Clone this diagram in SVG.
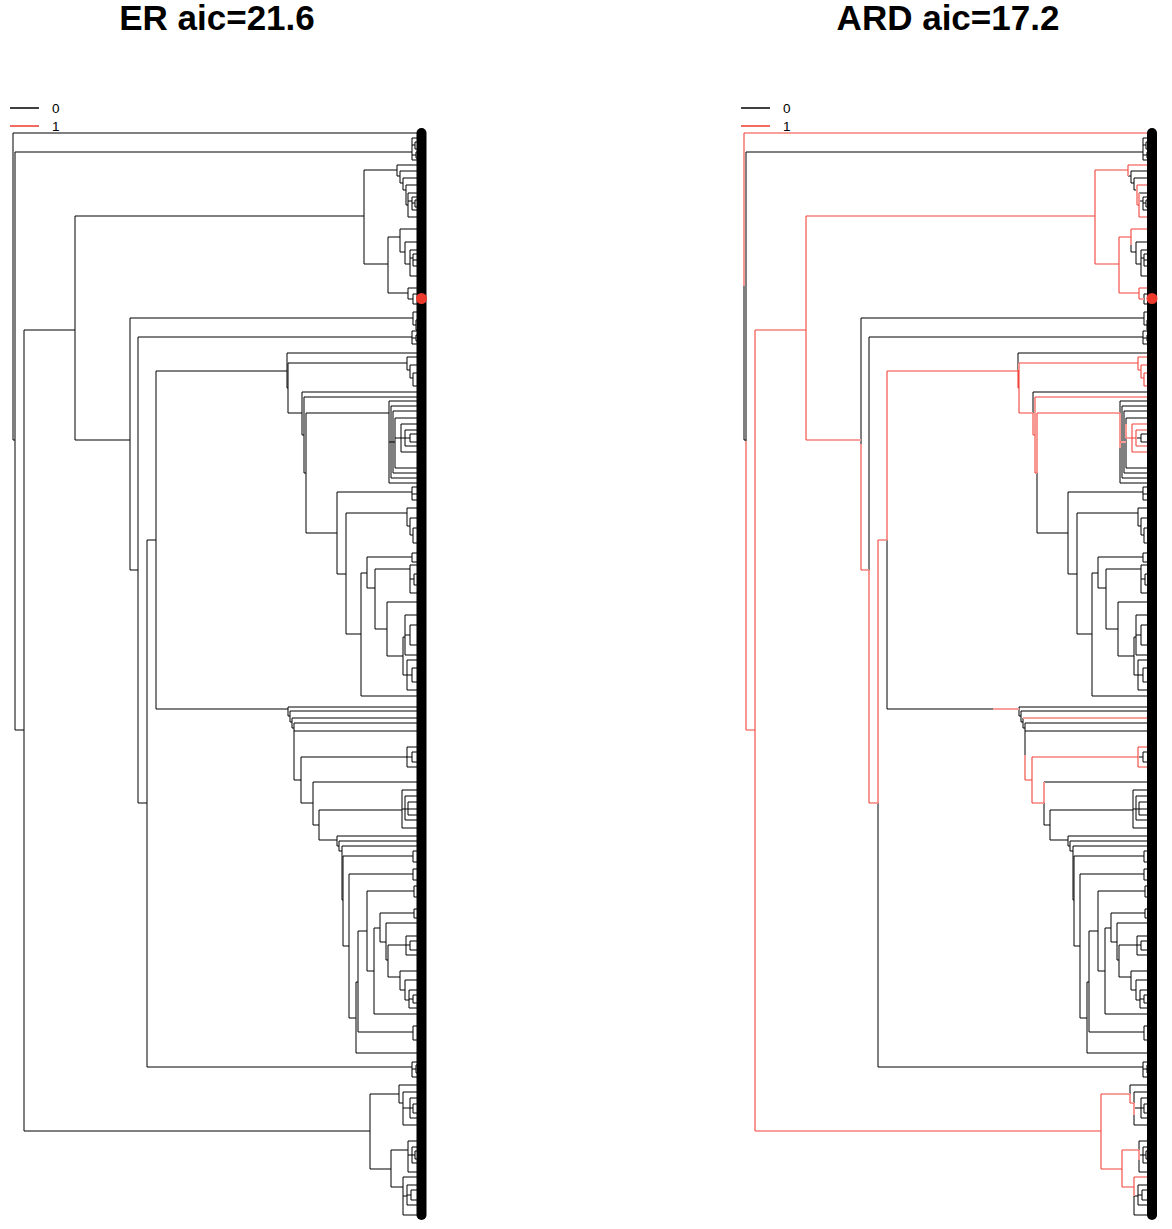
<svg xmlns="http://www.w3.org/2000/svg" xmlns:xlink="http://www.w3.org/1999/xlink" width="1172" height="1229" viewBox="0 0 1172 1229">
<style>
.title{font-family:"Liberation Sans",Arial,sans-serif;font-weight:bold;font-size:35px;text-anchor:middle;fill:#000}
.lg{font-family:"Liberation Sans",Arial,sans-serif;font-size:13.5px;fill:#000}
.bar{stroke:#000;stroke-width:10;stroke-linecap:round;fill:none}
.dot{fill:#ec3a2c}
.redbg{fill:none;stroke:#fff;stroke-width:2}
.red{fill:none;stroke:#f2443a;stroke-width:1.1}
</style>
<defs>
<path id="tree" fill="none" stroke="#000" stroke-width="1" d="M13 133V440M13 133H421M13 440H15M15 152V730M15 152H412M15 730H24M24 330V1131M24 330H75M24 1131H370M75 216V440M75 216H364M75 440H130M130 318V570M130 318H413M130 570H138M138 337V803M138 337H412M138 803H147M147 540V1067M147 540H156M147 1067H412M156 371V709M156 371H287M156 709H288
M412 138V160M412 138H421M412 160H421M412 145H415M415 142V149M415 142H421M415 149H421M412 155H416M416 152V158M416 152H421M416 158H421
M364 170V264M364 170H397M364 264H388M397 165V176M397 165H421M397 176H400M400 171V183M400 171H421M400 183H403M403 178V190M403 178H421M403 190H406M406 185V205M406 185H421M406 205H408M408 193V217M408 193H421M408 217H421M408 201H412M412 197V210M412 197H421M412 210H421M412 203H415M415 200V207M415 200H421M415 207H421
M388 237V293M388 237H400M388 293H408M400 229V252M400 229H421M400 252H405M405 242V264M405 242H421M405 264H410M410 250V276M410 250H421M410 276H421M410 258H413M413 254V266M413 254H421M413 266H421M413 260H421M408 288V299M408 288H421M408 299H413M413 294V304M413 294H421M413 304H421
M413 312V325M413 312H421M413 325H416M416 320V330M416 320H421M416 330H421M412 331V344M412 331H421M412 344H421M412 338H416M416 335V341M416 335H421M416 341H421
M287 353V388M287 353H421M287 388H288M288 363V413M288 363H407M407 357V370M407 357H421M407 370H410M410 365V378M410 365H421M410 378H413M413 373V386M413 373H421M413 386H421M288 413H302M302 392V435M302 392H421M302 435H304M304 397V473M304 397H421M304 473H306M306 413V533M306 413H389M306 533H337
M389 401V483M389 401H421M389 483H421M389 442H391M391 406V478M391 406H421M391 478H421M391 442H393M393 411V473M393 411H421M393 473H421M393 442H395M395 418V468M395 418H421M395 468H421M395 438H401M401 424V452M401 424H421M401 452H421M401 438H405M405 430V446M405 430H421M405 446H421M405 438H410M410 434V442M410 434H421M410 442H421
M337 492V574M337 492H412M337 574H346M412 487V500M412 487H421M412 500H421M412 494H421M346 513V634M346 513H407M346 634H361M407 508V526M407 508H421M407 526H410M410 518V535M410 518H421M410 535H413M413 528V543M413 528H421M413 543H421M361 573V696M361 573H367M361 696H421M367 557V588M367 557H412M367 588H375M412 553V562M412 553H421M412 562H421M375 569V629M375 569H410M375 629H387M410 565V593M410 565H421M410 593H421M410 579H414M414 574V585M414 574H421M414 585H421M387 602V656M387 602H421M387 656H403M403 637V675M403 637H405M403 675H407M405 615V655M405 615H421M405 655H421M405 635H410M410 625V645M410 625H421M410 645H421M407 660V690M407 660H421M407 690H421M407 675H412M412 668V682M412 668H421M412 682H421
M288 707V716M288 707H421M288 716H290M290 711V722M290 711H421M290 722H292M292 718V728M292 718H421M292 728H294M294 723V780M294 723H421M294 731H421M294 780H301M301 757V803M301 757H407M301 803H313M407 747V767M407 747H421M407 767H421M407 757H412M412 752V762M412 752H421M412 762H421M313 782V825M313 782H421M313 825H319M319 810V840M319 810H402M319 840H337M402 790V828M402 790H421M402 828H421M402 809H405M405 796V820M405 796H421M405 820H421M405 809H408M408 802V815M408 802H421M408 815H421M408 809H421
M337 836V846M337 836H421M337 846H339M339 841V851M339 841H421M339 851H342M342 846V900M342 846H421M342 900H343M343 856V946M343 856H413M343 946H349M413 851V862M413 851H421M413 862H421M349 874V1018M349 874H413M349 1018H356M413 869V880M413 869H421M413 880H421M356 982V1053M356 982H358M356 1053H421M358 931V1032M358 931H367M358 1032H413M413 1026V1040M413 1026H421M413 1040H421M367 891V971M367 891H414M367 971H374M414 886V897M414 886H421M414 897H421M374 928V1014M374 928H380M374 1014H421M380 913V942M380 913H414M380 942H386M414 909V918M414 909H421M414 918H421M386 923V960M386 923H421M386 960H388M388 945V977M388 945H406M388 977H400M406 936V955M406 936H421M406 955H421M406 945H410M410 941V950M410 941H421M410 950H421M400 971V990M400 971H421M400 990H405M405 980V1000M405 980H421M405 1000H409M409 990V1008M409 990H421M409 1008H421M409 999H413M413 995V1003M413 995H421M413 1003H421
M412 1062V1077M412 1062H421M412 1077H421M412 1069H416M416 1065V1073M416 1065H421M416 1073H421M370 1094V1169M370 1094H399M370 1169H391M399 1085V1103M399 1085H421M399 1103H403M403 1092V1125M403 1092H421M403 1125H421M403 1108H410M410 1098V1118M410 1098H421M410 1118H421M410 1108H413M413 1104V1113M413 1104H421M413 1113H421M391 1150V1187M391 1150H408M391 1187H403M408 1141V1172M408 1141H421M408 1172H421M408 1155H412M412 1147V1163M412 1147H421M412 1163H421M412 1155H415M415 1151V1159M415 1151H421M415 1159H421M403 1177V1215M403 1177H421M403 1215H421M403 1196H407M407 1185V1205M407 1185H421M407 1205H421M407 1195H411M411 1190V1200M411 1190H421M411 1200H421"/>
<path id="redtree" d="M13 133H421M13 133V286M15 441V730M15 730H24M24 330V1131M24 330H75M24 1131H370M75 216V440M75 216H364M75 440H130M130 444V570M130 570H138M138 570V803M138 803H147M147 540V803M147 540H156M156 371V540M156 371H287M262 709H288
M364 170V264M364 170H397M397 165V176M397 165H421M406 185V205M406 185H421M406 205H408M408 193V217M408 217H421M364 264H388M388 237V293M388 237H400M400 229V245M400 229H421M388 293H408M408 288V299M408 288H421M408 299H413
M287 370V388M287 388H288M288 363V413M288 363H407M407 357V370M407 357H421M407 370H410M410 365V378M410 365H421M410 378H413M413 373V386M413 373H421M413 386H421M288 413H302M302 413V435M302 435H304M304 397V473M304 397H421M304 473H306M306 413V473M306 413H389M389 413V448M389 442H395M395 424V438M395 438H401M401 424V452M401 424H421M401 452H421M401 438H405M405 430V446M405 430H421M405 446H421
M292 718H421M294 755V780M294 780H301M301 757V803M301 757H407M407 747V767M407 747H421M407 767H421M301 803H313M313 782V803
M370 1094V1169M370 1094H399M399 1094V1103M399 1103H403M403 1103V1115M370 1169H391M391 1150V1187M391 1150H408M408 1150V1160M391 1187H403M403 1177V1196M403 1177H421"/>
</defs>
<rect width="1172" height="1229" fill="#fff"/>
<g id="panel-er">
<text class="title" x="217" y="30">ER aic=21.6</text>
<g id="legend-er">
<line x1="10" y1="108" x2="39" y2="108" stroke="#000" stroke-width="1.5"/>
<text class="lg" x="52" y="113">0</text>
<line x1="10" y1="126" x2="39" y2="126" stroke="#ec3a2c" stroke-width="1.5"/>
<text class="lg" x="52" y="131">1</text>
</g>
<g id="branches-er"><use xlink:href="#tree" href="#tree"/></g>
<g id="tips-er">
<line class="bar" x1="421.5" y1="133" x2="421.5" y2="1215"/>
<circle class="dot" cx="421.5" cy="298.5" r="5.5"/>
</g>
</g>
<g id="panel-ard" transform="translate(731,0)">
<text class="title" x="217" y="30">ARD aic=17.2</text>
<g id="legend-ard">
<line x1="10" y1="108" x2="39" y2="108" stroke="#000" stroke-width="1.5"/>
<text class="lg" x="52" y="113">0</text>
<line x1="10" y1="126" x2="39" y2="126" stroke="#ec3a2c" stroke-width="1.5"/>
<text class="lg" x="52" y="131">1</text>
</g>
<g id="branches-ard">
<use xlink:href="#tree" href="#tree"/>
<use xlink:href="#redtree" href="#redtree" class="redbg"/>
<use xlink:href="#redtree" href="#redtree" class="red"/>
</g>
<g id="tips-ard">
<line class="bar" x1="421" y1="133" x2="421" y2="1215"/>
<circle class="dot" cx="421" cy="298.5" r="5.5"/>
</g>
</g>
</svg>
